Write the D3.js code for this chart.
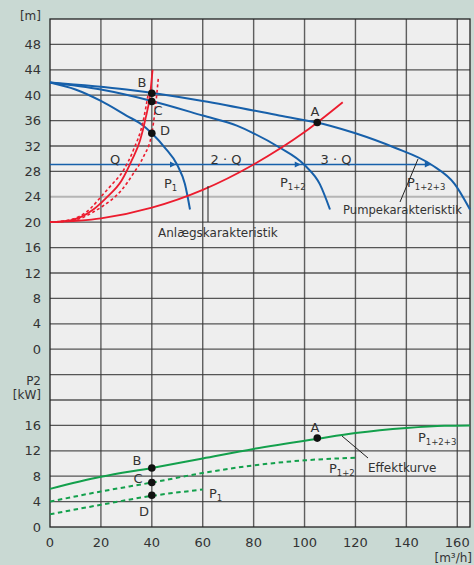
<!DOCTYPE html>
<html><head><meta charset="utf-8">
<script src="https://cdn.jsdelivr.net/npm/d3@7"></script>
<style>
html,body{margin:0;padding:0;background:#c9d9d3;}
svg{display:block;font-family:"DejaVu Sans","Liberation Sans",sans-serif;}
</style></head>
<body><svg id="c" width="474" height="565"></svg>
<script>
// ---- data ----
const xTicks = [0,20,40,60,80,100,120,140,160];
const headTicks = [0,4,8,12,16,20,24,28,32,36,40,44,48];
const powerTicks = [0,4,8,12,16];
// pump curves [Q m3/h, H m]
const pumpP1 = [[0,42],[10,40.9],[20,39.1],[30,36.8],[36.7,35.2],[40,34],[45,31.8],[50,29],[53,26],[55,22]];
const pumpP12 = [[0,42],[20,40.9],[40,39.1],[60,36.8],[73.4,35.2],[80,34],[90,31.8],[100,29],[106,26],[110,22]];
const pumpP123 = [[0,42],[30,40.9],[60,39.1],[90,36.8],[110,35.2],[120,34],[135,31.8],[150,29],[159,26],[165,22]];
// system curves
const systemA = [[0,20],[20,20.6],[40,22.3],[60,25.1],[80,29.1],[100,34.2],[115,38.9]];
const systemB = [[0,20],[8,20.3],[12,20.8],[17,22],[22,23.8],[28.2,26.6],[32.2,29.8],[35.4,32.9],[37.4,36.1],[39.4,40.3],[40.3,44]];
const systemC = [[0,20],[8,20.4],[12,21],[16,22.2],[20,24],[24,25.8],[28.9,28.2],[32.8,31.4],[36.7,36.1],[38.5,40]];
const systemD = [[0,20],[8,20.2],[12,20.6],[17,21.6],[21,22.6],[28.2,25.1],[32.8,27.7],[36.7,30.3],[40,34],[41.3,37.7],[42.6,42.9]];
// power curves [Q, kW]
const powerP123 = [[0,6.0],[20,7.9],[40,9.3],[60,10.8],[80,12.3],[105,13.9],[120,14.8],[140,15.6],[155,15.95],[165,16.0]];
const powerP12 = [[0,4.0],[20,5.6],[40,7.0],[60,8.5],[80,9.7],[100,10.5],[120,10.9]];
const powerP1 = [[0,2.0],[20,3.5],[40,4.9],[60,5.9]];
// operating points
const headPoints = [["A",105,35.7],["B",40,40.3],["C",40,39],["D",40,34]];
const powerPoints = [["A",105,14.0],["B",40,9.3],["C",40,7.0],["D",40,5.0]];
const flowArrowHead = 29.1;
const flowArrowEnds = [49.5,98.5,149.6];

// ---- drawing ----
const svg = d3.select("#c");
const L=50, R=470, T=19, B=527;
const x = d3.scaleLinear().domain([0,165]).range([L,R]);
const yP = d3.scaleLinear().domain([0,80]).range([B,T]);      // power / grid units
const yH = d3.scaleLinear().domain([-28,52]).range([B,T]);    // head in m
const blue="#1760aa", red="#ec1c2e", green="#13a04c", txt="#333";

svg.append("rect").attr("x",L).attr("y",T).attr("width",R-L).attr("height",B-T).attr("fill","#eeeeee");

// grid
const gridUnits = d3.range(4,80,4);
svg.append("g").selectAll("line").data(gridUnits).join("line")
  .attr("x1",L).attr("x2",R).attr("y1",d=>yP(d)).attr("y2",d=>yP(d))
  .attr("stroke",d=>d===52?"#b5b5b5":"#3a3a3a").attr("stroke-width",d=>d===52?2:1.3).attr("stroke-opacity",d=>d===52?1:0.85);
svg.append("g").selectAll("line").data(xTicks.slice(1)).join("line")
  .attr("x1",d=>x(d)).attr("x2",d=>x(d)).attr("y1",T).attr("y2",B)
  .attr("stroke","#3a3a3a").attr("stroke-width",1.4).attr("stroke-opacity",0.8);
svg.append("rect").attr("x",L).attr("y",T).attr("width",R-L).attr("height",B-T)
  .attr("fill","none").attr("stroke","#222").attr("stroke-width",1.3);

// axes labels
const fs=13;
svg.append("g").selectAll("text").data(xTicks).join("text")
  .attr("x",d=>x(d)).attr("y",B+20).attr("text-anchor","middle").attr("font-size",fs).attr("fill",txt).text(d=>d);
svg.append("text").attr("x",472).attr("y",562).attr("text-anchor","end").attr("font-size",12).attr("fill",txt).text("[m³/h]");
svg.append("g").selectAll("text").data(headTicks).join("text")
  .attr("x",41).attr("y",d=>yH(d)+4.5).attr("text-anchor","end").attr("font-size",fs).attr("fill",txt).text(d=>d);
svg.append("g").selectAll("text").data(powerTicks).join("text")
  .attr("x",41).attr("y",d=>yP(d)+4.5).attr("text-anchor","end").attr("font-size",fs).attr("fill",txt).text(d=>d);
svg.append("text").attr("x",41).attr("y",20).attr("text-anchor","end").attr("font-size",12).attr("fill",txt).text("[m]");
svg.append("text").attr("x",41).attr("y",385).attr("text-anchor","end").attr("font-size",12).attr("fill",txt).text("P2");
svg.append("text").attr("x",41).attr("y",399).attr("text-anchor","end").attr("font-size",12).attr("fill",txt).text("[kW]");

// lines
const lineH = d3.line().x(d=>x(d[0])).y(d=>yH(d[1])).curve(d3.curveMonotoneX);
const lineP = d3.line().x(d=>x(d[0])).y(d=>yP(d[1])).curve(d3.curveMonotoneX);

// flow arrow line
svg.append("line").attr("x1",L).attr("x2",x(flowArrowEnds[2])).attr("y1",yH(flowArrowHead)).attr("y2",yH(flowArrowHead))
  .attr("stroke",blue).attr("stroke-width",1.5);
svg.append("g").selectAll("path").data(flowArrowEnds).join("path")
  .attr("d",d=>{const px=x(d), py=yH(flowArrowHead); return `M${px-6},${py-3}L${px},${py}L${px-6},${py+3}Z`;})
  .attr("fill",blue);

[pumpP1,pumpP12,pumpP123].forEach(p=>{
  svg.append("path").attr("d",lineH(p)).attr("fill","none").attr("stroke",blue).attr("stroke-width",2);
});
svg.append("path").attr("d",lineH(systemA)).attr("fill","none").attr("stroke",red).attr("stroke-width",1.8);
svg.append("path").attr("d",lineH(systemB)).attr("fill","none").attr("stroke",red).attr("stroke-width",1.8);
[systemC,systemD].forEach(p=>{
  svg.append("path").attr("d",lineH(p)).attr("fill","none").attr("stroke",red).attr("stroke-width",1.6).attr("stroke-dasharray","3,2.5");
});
svg.append("path").attr("d",lineP(powerP123)).attr("fill","none").attr("stroke",green).attr("stroke-width",2);
[powerP12,powerP1].forEach(p=>{
  svg.append("path").attr("d",lineP(p)).attr("fill","none").attr("stroke",green).attr("stroke-width",2).attr("stroke-dasharray","4.5,3.5");
});

// points
svg.append("g").selectAll("circle").data(headPoints).join("circle")
  .attr("cx",d=>x(d[1])).attr("cy",d=>yH(d[2])).attr("r",3.8).attr("fill","#111");
svg.append("g").selectAll("circle").data(powerPoints).join("circle")
  .attr("cx",d=>x(d[1])).attr("cy",d=>yP(d[2])).attr("r",3.8).attr("fill","#111");

// annotations
function t(xp,yp,s,size,anchor){return svg.append("text").attr("x",xp).attr("y",yp).attr("font-size",size||12)
  .attr("fill",txt).attr("text-anchor",anchor||"start").text(s);}
function psub(xp,yp,sub){const e=svg.append("text").attr("x",xp).attr("y",yp).attr("font-size",13).attr("fill",txt);
  e.append("tspan").text("P"); e.append("tspan").attr("dy",3).attr("font-size",8.5).text(sub); return e;}
t(142,87,"B",13,"middle"); t(158,115,"C",13,"middle"); t(165,135,"D",13,"middle"); t(315,116,"A",13,"middle");
t(115,164,"Q",13,"middle"); t(226,164,"2 · Q",13,"middle"); t(336,164,"3 · Q",13,"middle");
psub(164,188,"1"); psub(280,187,"1+2"); psub(407,187,"1+2+3");
t(158,237,"Anlægskarakteristik",12);
svg.append("line").attr("x1",208).attr("x2",208).attr("y1",186).attr("y2",222).attr("stroke","#222").attr("stroke-width",1);
t(343,214,"Pumpekarakterisktik",11.6);
svg.append("line").attr("x1",418).attr("x2",400).attr("y1",159).attr("y2",202).attr("stroke","#222").attr("stroke-width",1);
// lower annotations
t(137,465,"B",13,"middle"); t(138,483,"C",13,"middle"); t(144,516,"D",13,"middle"); t(315,432,"A",13,"middle");
psub(418,442,"1+2+3"); psub(329,473,"1+2"); psub(209,498,"1");
t(368,472,"Effektkurve",12);
svg.append("line").attr("x1",342).attr("x2",368).attr("y1",436).attr("y2",458).attr("stroke","#222").attr("stroke-width",1);
</script></body></html>
